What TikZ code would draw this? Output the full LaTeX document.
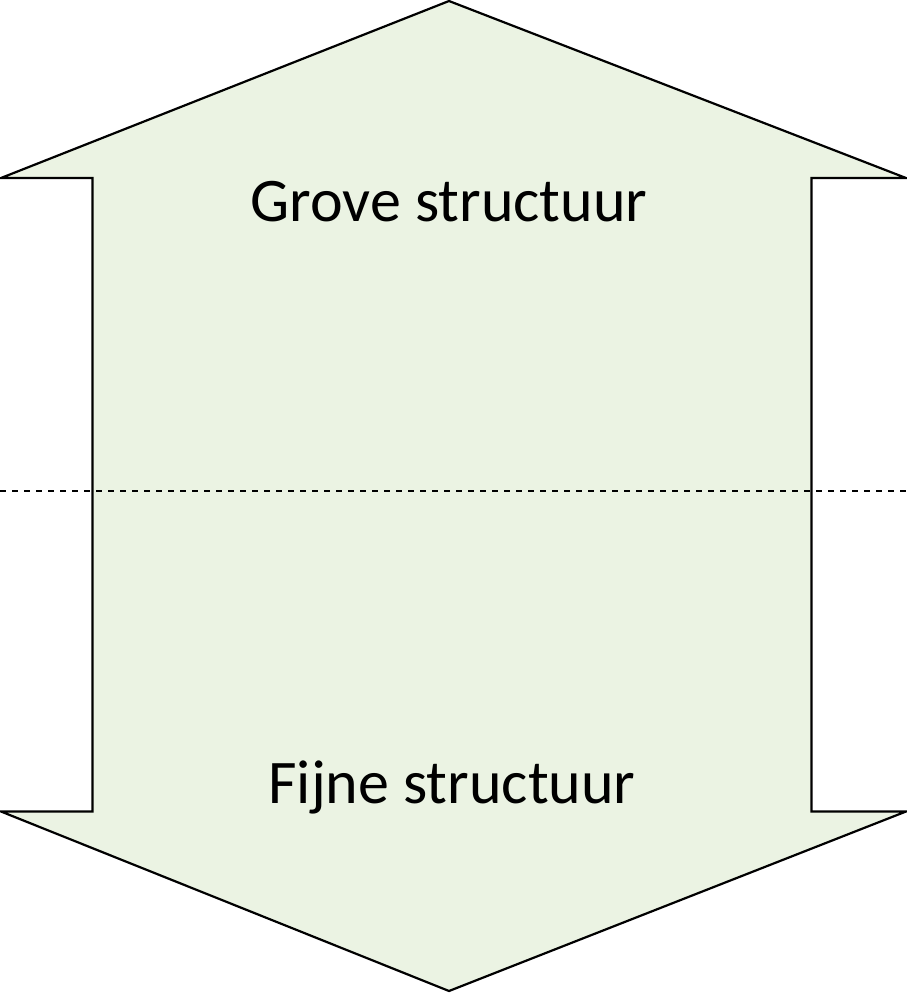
\documentclass[tikz,border=0pt]{standalone}
\usepackage{fontspec}
\setmainfont{Carlito}
\definecolor{lichtgroen}{RGB}{235,243,227}
\begin{document}
\begin{tikzpicture}[line join=miter,x=1pt,y=-1pt,font=\fontsize{62}{74}\selectfont]
					\useasboundingbox (0,0) rectangle (907,993);
					\coordinate (T) at (449,1);
					\coordinate (LK) at (1,178);
					\coordinate (LB) at (92.5,178);
					\coordinate (LO) at (92.5,811.5);
					\coordinate (LV) at (1,811.5);
					\coordinate (B) at (449,991);
					\coordinate (RV) at (906,811.5);
					\coordinate (RO) at (811.5,811.5);
					\coordinate (RB) at (811.5,178);
					\coordinate (RK) at (906,178);
					\coordinate (SL) at (0,490.5);
					\coordinate (SR) at (907,490.5);
					\draw[line width=2.2pt,fill=lichtgroen] (T)--(LK)--(LB)--(LO)--(LV)--(B)--(RV)--(RO)--(RB)--(RK)--cycle;
					\draw[line width=2pt,dash pattern=on 6pt off 6pt] (SL)--(SR);
					\node[anchor=base] (grof) at (449,221) {Grove structuur};
					\node[anchor=base] (fijn) at (452,803) {Fijne structuur};
				\end{tikzpicture}
\end{document}
